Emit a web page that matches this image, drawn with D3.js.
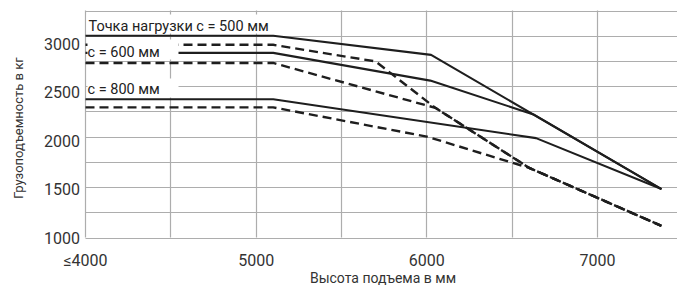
<!DOCTYPE html>
<html><head><meta charset="utf-8">
<script src="https://cdn.jsdelivr.net/npm/d3@7"></script>
<style>
html,body{margin:0;padding:0;background:#fff;}
svg{display:block;font-family:Roboto,"Noto Sans",sans-serif;}
</style></head>
<body>
<svg id="c" width="677" height="285"></svg>
<script>
// ---- data ----
const xTickValues = [4000, 5000, 6000, 7000];
const xTickLabels = ["≤4000", "5000", "6000", "7000"];
const yTickValues = [1000, 1500, 2000, 2500, 3000];
const yTickLabels = ["1000", "1500", "2000", "2500", "3000"];
const xGrid = [4000, 4500, 5000, 5500, 6000, 6500, 7000];
const yGrid = [1000, 1250, 1500, 1750, 2000, 2250, 2500, 2750, 3000, 3250];

// solid lines: [lift height mm, capacity kg]
const solid500 = [[4000, 3000], [5100, 3000], [6025, 2810], [7375, 1480]];
const solid600 = [[4000, 2830], [5100, 2830], [6020, 2555], [6625, 2220], [7375, 1480]];
const solid800 = [[4000, 2370], [5100, 2370], [6640, 1985], [7375, 1480]];
// dashed lines
const dashed500 = [[4000, 2910], [5100, 2910], [5700, 2745], [6050, 2285], [6600, 1690], [7375, 1115]];
const dashed600 = [[4000, 2730], [5100, 2730], [6050, 2285], [6600, 1690], [7375, 1115]];
const dashed800 = [[4000, 2290], [5100, 2290], [6000, 2000], [6600, 1690], [7375, 1115]];

const labels = [
  {text: "Точка нагрузки c = 500 мм", box: [86.5, 14.5, 186, 19], tx: 88.5, ty: 30.5},
  {text: "c = 600 мм", box: [87.5, 39.5, 91, 20], tx: 87.5, ty: 56.8},
  {text: "c = 800 мм", box: [87.5, 78.5, 91, 19], tx: 87.5, ty: 93.5}
];

// ---- chart ----
const svg = d3.select("#c");
const x = d3.scaleLinear().domain([4000, 7466]).range([85.5, 677]);
const y = d3.scaleLinear().domain([1000, 3250]).range([237.5, 10.5]);
const yLab = d3.scaleLinear().domain([1000, 3000]).range([238.3, 43.8]);

const gridColor = "#adadad";
const g = svg.append("g");
g.selectAll("line.h").data(yGrid).join("line")
  .attr("x1", x(4000)).attr("x2", 677)
  .attr("y1", d => Math.round(y(d)) + 0.5).attr("y2", d => Math.round(y(d)) + 0.5)
  .attr("stroke", gridColor).attr("stroke-width", 1.2);
g.selectAll("line.v").data(xGrid).join("line")
  .attr("x1", d => Math.round(x(d) - 0.5) + 0.5).attr("x2", d => Math.round(x(d) - 0.5) + 0.5)
  .attr("y1", y(3250)).attr("y2", y(1000))
  .attr("stroke", gridColor).attr("stroke-width", 1.2);

// tick labels
svg.selectAll("text.yt").data(yTickValues).join("text")
  .attr("x", 80).attr("y", d => yLab(d)).attr("dy", "0.36em")
  .attr("text-anchor", "end").attr("font-size", 16).attr("fill", "#333")
  .text((d, i) => yTickLabels[i]);
svg.selectAll("text.xt").data(xTickValues).join("text")
  .attr("x", d => x(d)).attr("y", 260).attr("dy", "0.36em")
  .attr("text-anchor", "middle").attr("font-size", 16).attr("fill", "#333")
  .text((d, i) => xTickLabels[i]);

// axis titles
svg.append("text").attr("x", 383).attr("y", 278).attr("dy", "0.36em")
  .attr("text-anchor", "middle").attr("font-size", 14).attr("fill", "#333")
  .text("Высота подъема в мм");
svg.append("text").attr("transform", "translate(18,128) rotate(-90)").attr("dy", "0.36em")
  .attr("text-anchor", "middle").attr("font-size", 13).attr("fill", "#333")
  .text("Грузоподъемность в кг");

// lines
const line = d3.line().x(d => x(d[0])).y(d => y(d[1]));
const ink = "#1e1e1e";
[solid500, solid600, solid800].forEach(s => {
  svg.append("path").datum(s).attr("d", line).attr("fill", "none")
    .attr("stroke", ink).attr("stroke-width", 2.1).attr("stroke-linejoin", "round");
});
[dashed500, dashed600, dashed800].forEach(s => {
  svg.append("path").datum(s).attr("d", line).attr("fill", "none")
    .attr("stroke", ink).attr("stroke-width", 2.4).attr("stroke-dasharray", "9,5");
});

// label boxes
labels.forEach(l => {
  svg.append("rect").attr("x", l.box[0]).attr("y", l.box[1])
    .attr("width", l.box[2]).attr("height", l.box[3]).attr("fill", "#fff");
  svg.append("text").attr("x", l.tx).attr("y", l.ty)
    .attr("font-size", 14.5).attr("fill", "#222").text(l.text);
});
</script>
</body></html>
